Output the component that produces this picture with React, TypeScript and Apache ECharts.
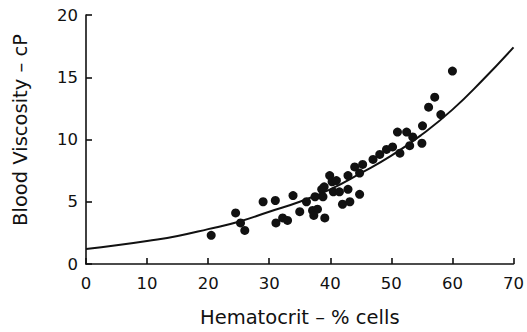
import React, { useEffect, useRef } from "react";
import * as echarts from "echarts";

const hematocrit = [20.5, 24.5, 25.3, 26, 29, 31, 31.1, 32.2, 33, 33.9, 35, 36.1, 37.1, 37.9, 37.3, 39.1, 37.5, 38.6, 39.0, 39.9, 40.3, 41.0, 38.8, 40.5, 41.5, 42.9, 42.9, 42.0, 43.2, 44.8, 44.0, 45.3, 44.8, 47.0, 48.1, 49.2, 50.2, 51.0, 51.4, 52.5, 53.0, 53.5, 55.1, 55.0, 56.1, 57.1, 58.1, 60.0];
const viscosity = [2.3, 4.1, 3.3, 2.7, 5.0, 5.1, 3.3, 3.7, 3.5, 5.5, 4.2, 5.0, 4.3, 4.4, 3.9, 3.7, 5.4, 6.0, 6.2, 7.1, 6.6, 6.7, 5.4, 5.8, 5.8, 6.0, 7.1, 4.8, 5.0, 5.6, 7.8, 8.0, 7.3, 8.4, 8.8, 9.2, 9.4, 10.6, 8.9, 10.6, 9.5, 10.2, 11.1, 9.7, 12.6, 13.4, 12.0, 15.5];

const curveX = [0, 5, 10, 15, 20, 25, 30, 35, 40, 45, 50, 55, 60, 65, 70];
const curveY = [1.2, 1.5, 1.85, 2.25, 2.8, 3.4, 4.2, 5.0, 6.0, 7.3, 8.7, 10.4, 12.4, 14.8, 17.4];

const xTicks = [0, 10, 20, 30, 40, 50, 60, 70];
const yTicks = [0, 5, 10, 15, 20];

export default function App() {
  const ref = useRef<HTMLDivElement>(null);
  useEffect(() => {
    if (!ref.current) return;
    const chart = echarts.init(ref.current, null, { renderer: "svg" });
    const font = "DejaVu Sans, sans-serif";
    chart.setOption({
      animation: false,
      backgroundColor: "#ffffff",
      grid: { left: 86, right: 13, top: 15, bottom: 67 },
      xAxis: {
        type: "value",
        min: xTicks[0],
        max: xTicks[xTicks.length - 1],
        interval: 10,
        name: "Hematocrit \u2013 % cells",
        nameLocation: "middle",
        nameGap: 43,
        nameTextStyle: { fontFamily: font, fontSize: 19.5, color: "#111" },
        axisLine: { lineStyle: { color: "#111", width: 1.6 } },
        axisTick: { inside: true, length: 6, lineStyle: { color: "#111", width: 1.6 } },
        axisLabel: { fontFamily: font, fontSize: 16.5, color: "#111", margin: 11 },
        splitLine: { show: false },
      },
      yAxis: {
        type: "value",
        min: yTicks[0],
        max: yTicks[yTicks.length - 1],
        interval: 5,
        axisLine: { show: true, lineStyle: { color: "#111", width: 1.6 } },
        axisTick: { show: true, inside: true, length: 6, lineStyle: { color: "#111", width: 1.6 } },
        axisLabel: { fontFamily: font, fontSize: 16.5, color: "#111", margin: 8 },
        splitLine: { show: false },
      },
      graphic: [
        {
          type: "text",
          x: 20,
          y: 130,
          rotation: Math.PI / 2,
          style: {
            text: "Blood Viscosity \u2013 cP",
            fontFamily: font,
            fontSize: 19.5,
            fill: "#111",
            align: "center",
            verticalAlign: "middle",
          },
        },
      ],
      series: [
        {
          type: "line",
          data: curveX.map((x, i) => [x, curveY[i]]),
          smooth: true,
          symbol: "none",
          lineStyle: { color: "#111", width: 2 },
          z: 2,
        },
        {
          type: "scatter",
          data: hematocrit.map((x, i) => [x, viscosity[i]]),
          symbol: "circle",
          symbolSize: 9,
          itemStyle: { color: "#111", opacity: 1 },
          z: 3,
        },
      ],
    });
    return () => chart.dispose();
  }, []);
  return <div ref={ref} style={{ width: 527, height: 332, position: "absolute", left: 0, top: 0 }} />;
}
